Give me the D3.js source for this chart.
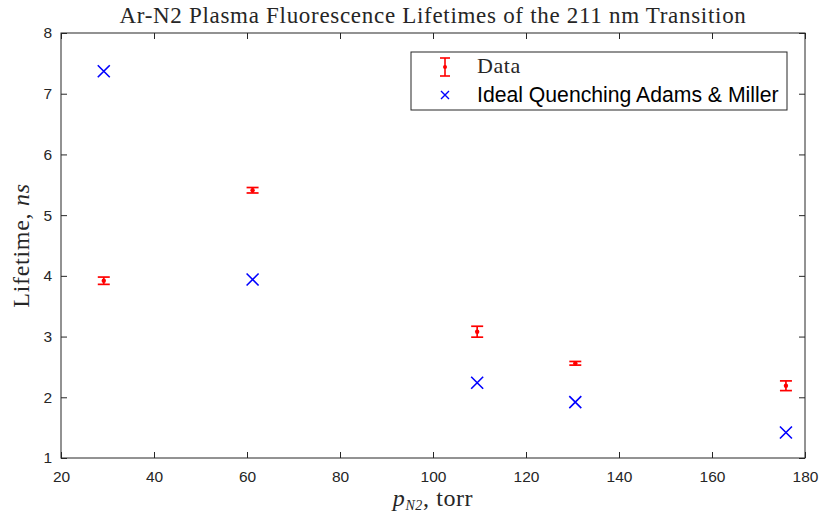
<!DOCTYPE html>
<html>
<head>
<meta charset="utf-8">
<script src="https://cdn.jsdelivr.net/npm/d3@7"></script>
<style>
  body { margin: 0; background: #fff; }
  svg { display: block; }
  .tick text { font-family: "Liberation Sans", Arial, sans-serif; font-size: 15.5px; fill: #262626; }
  .serif { font-family: "Liberation Serif", "Times New Roman", serif; fill: #262626; }
</style>
</head>
<body>
<svg id="chart" width="820" height="519"></svg>
<script>
// values
const pressure = [29.2, 61.2, 109.5, 130.6, 175.9];
const lifetime = [3.92, 5.41, 3.08, 2.56, 2.19];
const lifetimeErr = [0.06, 0.045, 0.09, 0.03, 0.08];
const idealLifetime = [7.37, 3.94, 2.24, 1.92, 1.42];
const xTicks = [20, 40, 60, 80, 100, 120, 140, 160, 180];
const yTicks = [1, 2, 3, 4, 5, 6, 7, 8];

const svg = d3.select("#chart");
const width = 820, height = 519;
const margin = { top: 33, right: 15, bottom: 61, left: 61 };
const innerW = width - margin.left - margin.right;
const innerH = height - margin.top - margin.bottom;
const axisColor = "#262626";
const tickLen = 6;

const x = d3.scaleLinear().domain([20, 180]).range([0, innerW]);
const y = d3.scaleLinear().domain([1, 8]).range([innerH, 0]);

const g = svg.append("g").attr("transform", `translate(${margin.left},${margin.top})`);

// axes, ticks pointing inward like matlab
function styleAxis(sel) {
    sel.select(".domain").remove();
    sel.selectAll(".tick line").attr("stroke", axisColor).attr("stroke-width", 1);
}
g.append("g").attr("transform", `translate(0,${innerH})`)
    .call(d3.axisBottom(x).tickValues(xTicks).tickSize(-tickLen).tickPadding(13).tickFormat(d3.format("d")))
    .call(styleAxis);
g.append("g")
    .call(d3.axisTop(x).tickValues(xTicks).tickSize(-tickLen).tickFormat(""))
    .call(styleAxis);
g.append("g")
    .call(d3.axisLeft(y).tickValues(yTicks).tickSize(-tickLen).tickPadding(9).tickFormat(d3.format("d")))
    .call(styleAxis);
g.append("g").attr("transform", `translate(${innerW},0)`)
    .call(d3.axisRight(y).tickValues(yTicks).tickSize(-tickLen).tickFormat(""))
    .call(styleAxis);

g.append("rect")
    .attr("width", innerW).attr("height", innerH)
    .attr("fill", "none").attr("stroke", axisColor).attr("stroke-width", 1);

// error bars
const capW = 6;
const pts = pressure.map((p, i) => ({ p, v: lifetime[i], e: lifetimeErr[i], ideal: idealLifetime[i] }));
const eb = g.append("g").attr("stroke", "#ff0000").attr("stroke-width", 1.7);
eb.selectAll("line.v").data(pts).join("line").attr("class", "v")
    .attr("x1", d => x(d.p)).attr("x2", d => x(d.p))
    .attr("y1", d => y(d.v - d.e)).attr("y2", d => y(d.v + d.e));
eb.selectAll("line.top").data(pts).join("line").attr("class", "top")
    .attr("x1", d => x(d.p) - capW).attr("x2", d => x(d.p) + capW)
    .attr("y1", d => y(d.v + d.e)).attr("y2", d => y(d.v + d.e));
eb.selectAll("line.bot").data(pts).join("line").attr("class", "bot")
    .attr("x1", d => x(d.p) - capW).attr("x2", d => x(d.p) + capW)
    .attr("y1", d => y(d.v - d.e)).attr("y2", d => y(d.v - d.e));
g.append("g").selectAll("circle").data(pts).join("circle")
    .attr("cx", d => x(d.p)).attr("cy", d => y(d.v)).attr("r", 2.2).attr("fill", "#ff0000");

// ideal quenching crosses
const xs = 6;
const crossPath = s => `M${-s},${-s}L${s},${s}M${-s},${s}L${s},${-s}`;
g.append("g").selectAll("path").data(pts).join("path")
    .attr("transform", d => `translate(${x(d.p)},${y(d.ideal)})`)
    .attr("d", crossPath(xs))
    .attr("stroke", "#0000ff").attr("stroke-width", 1.6).attr("fill", "none");

// title and labels (latex-ish serif)
svg.append("text").attr("class", "serif")
    .attr("x", margin.left + innerW / 2).attr("y", 23)
    .attr("text-anchor", "middle").style("font-size", "23px").style("letter-spacing", "0.7px")
    .text("Ar-N2 Plasma Fluorescence Lifetimes of the 211 nm Transition");

const xl = svg.append("text").attr("class", "serif")
    .attr("x", margin.left + innerW / 2).attr("y", 506)
    .attr("text-anchor", "middle").style("font-size", "24px").style("letter-spacing", "0.6px");
xl.append("tspan").style("font-style", "italic").text("p");
xl.append("tspan").style("font-style", "italic").style("font-size", "14px").attr("dy", 4).text("N2");
xl.append("tspan").attr("dy", -4).text(", torr");

const yl = svg.append("text").attr("class", "serif")
    .attr("transform", `translate(29,${margin.top + innerH / 2}) rotate(-90)`)
    .attr("text-anchor", "middle").style("font-size", "24px").style("letter-spacing", "0.7px");
yl.append("tspan").text("Lifetime, ");
yl.append("tspan").style("font-style", "italic").text("ns");

// legend
const lg = svg.append("g").attr("transform", "translate(411,52)");
lg.append("rect").attr("width", 376).attr("height", 58)
    .attr("fill", "#fff").attr("stroke", axisColor).attr("stroke-width", 1);
const ly1 = 15, ly2 = 43, lsx = 34;
lg.append("line").attr("x1", lsx).attr("x2", lsx).attr("y1", ly1 - 9).attr("y2", ly1 + 9)
    .attr("stroke", "#ff0000").attr("stroke-width", 1.6);
[ly1 - 9, ly1 + 9].forEach(cy => lg.append("line")
    .attr("x1", lsx - 5).attr("x2", lsx + 5).attr("y1", cy).attr("y2", cy)
    .attr("stroke", "#ff0000").attr("stroke-width", 1.6));
lg.append("circle").attr("cx", lsx).attr("cy", ly1).attr("r", 2).attr("fill", "#ff0000");
lg.append("path").attr("transform", `translate(${lsx},${ly2})`).attr("d", crossPath(4))
    .attr("stroke", "#0000ff").attr("stroke-width", 1.4);
lg.append("text").attr("class", "serif").attr("x", 66).attr("y", ly1 + 6)
    .style("font-size", "22px").style("letter-spacing", "0.6px").attr("fill", "#000").text("Data");
lg.append("text").attr("x", 66).attr("y", ly2 + 7)
    .style("font-family", "'Liberation Sans', Arial, sans-serif").style("font-size", "21.2px")
    .attr("fill", "#000").text("Ideal Quenching Adams & Miller");
</script>
</body>
</html>
